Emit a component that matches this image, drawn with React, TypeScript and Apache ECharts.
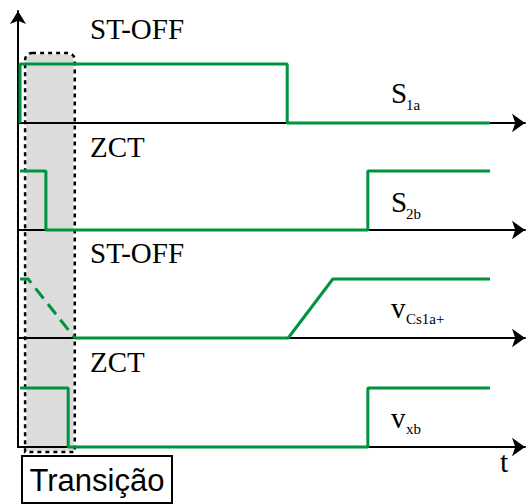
import React, { useEffect, useRef } from "react";
import * as echarts from "echarts";

// ---- data (time in arbitrary units, level 0 = low, 1 = high) ----
const signalNames = ["S1a", "S2b", "vCs1a+", "vxb"];
const modeLabels = ["ST-OFF", "ZCT", "ST-OFF", "ZCT"];

const s1aTime = [0.04, 0.04, 5.31, 5.31, 9.31];
const s1aLevel = [0, 1, 1, 0, 0];

const s2bTime = [0.04, 0.55, 0.55, 6.9, 6.9, 9.31];
const s2bLevel = [1, 1, 0, 0, 1, 1];

const vcsDashTime = [0.04, 0.2, 1.12];
const vcsDashLevel = [1, 1, 0];
const vcsTime = [1.12, 5.33, 6.21, 9.31];
const vcsLevel = [0, 0, 1, 1];

const vxbTime = [0.04, 0.99, 0.99, 6.9, 6.9, 9.31];
const vxbLevel = [1, 1, 0, 0, 1, 1];

const transitionStart = 0.14;
const transitionEnd = 1.12;
const transitionLabel = "Transição";
const timeLabel = "t";

// ---- layout ----
const W = 531;
const H = 504;
const GRID_LEFT = 18;
const GRID_W = 507;
const X_MAX = 10;
const AXIS_Y = [123, 230, 338, 447];
const HIGH_PX = 59;
const GREEN = "#00933f";
const SERIF = "'Liberation Serif', 'Times New Roman', Times, serif";
const SANS = "'Liberation Sans', Arial, Helvetica, sans-serif";

const xPx = (t: number) => GRID_LEFT + (t / X_MAX) * GRID_W;
const pairs = (ts: number[], ls: number[]) => ts.map((t, i) => [t, ls[i]]);

export default function App() {
  const ref = useRef<HTMLDivElement>(null);
  useEffect(() => {
    if (!ref.current) return;
    const chart = echarts.init(ref.current, null, { renderer: "svg" });

    const grids: any[] = AXIS_Y.map((y) => ({
      left: GRID_LEFT,
      width: GRID_W,
      top: y - HIGH_PX,
      height: HIGH_PX,
    }));
    grids.push({ left: GRID_LEFT, width: GRID_W, top: 11, height: AXIS_Y[3] - 11 });

    const xAxes: any[] = AXIS_Y.map((_, i) => ({
      type: "value",
      gridIndex: i,
      min: 0,
      max: X_MAX,
      z: 3,
      axisLine: {
        show: true,
        onZero: false,
        symbol: ["none", "arrow"],
        symbolSize: [14, 13],
        lineStyle: { color: "#000", width: 2 },
      },
      axisTick: { show: false },
      axisLabel: { show: false },
      splitLine: { show: false },
    }));
    xAxes.push({ type: "value", gridIndex: 4, min: 0, max: X_MAX, show: false });

    const yAxes: any[] = AXIS_Y.map((_, i) => ({
      type: "value",
      gridIndex: i,
      min: 0,
      max: 1,
      show: false,
    }));
    yAxes.push({
      type: "value",
      gridIndex: 4,
      min: 0,
      max: 1,
      z: 3,
      axisLine: {
        show: true,
        onZero: false,
        symbol: ["none", "arrow"],
        symbolSize: [12, 13],
        lineStyle: { color: "#000", width: 2 },
      },
      axisTick: { show: false },
      axisLabel: { show: false },
      splitLine: { show: false },
    });

    const mk = (name: string, idx: number, data: number[][], dashed = false) => ({
      name,
      type: "line",
      xAxisIndex: idx,
      yAxisIndex: idx,
      data,
      symbol: "none",
      clip: false,
      z: 4,
      lineStyle: { color: GREEN, width: 3, type: dashed ? [13, 7] : "solid" },
    });

    const series = [
      mk(signalNames[0], 0, pairs(s1aTime, s1aLevel)),
      mk(signalNames[1], 1, pairs(s2bTime, s2bLevel)),
      mk(signalNames[2] + "-dash", 2, pairs(vcsDashTime, vcsDashLevel), true),
      mk(signalNames[2], 2, pairs(vcsTime, vcsLevel)),
      mk(signalNames[3], 3, pairs(vxbTime, vxbLevel)),
    ];

    const bx0 = xPx(transitionStart);
    const bx1 = xPx(transitionEnd);
    const boxTop = 53;
    const boxBottom = 452;

    const modeY = [29, 147, 253, 362];
    const sigMain = [
      { text: "S", y: 93, sub: "1a", subY: 105 },
      { text: "S", y: 202, sub: "2b", subY: 214 },
      { text: "v", y: 308, sub: "Cs1a+", subY: 319 },
      { text: "v", y: 418, sub: "xb", subY: 429 },
    ];

    const txt = (text: string, x: number, y: number, size: number, family: string, extra: any = {}) => ({
      type: "text",
      z: 10,
      x,
      y,
      style: {
        text,
        fontSize: size,
        fontFamily: family,
        fill: "#000",
        verticalAlign: "middle",
        ...extra,
      },
    });

    const graphic: any[] = [
      {
        type: "rect",
        z: 1,
        shape: { x: bx0, y: boxTop, width: bx1 - bx0, height: boxBottom - boxTop, r: [7, 7, 0, 0] },
        style: { fill: "#dcdcdc", stroke: "#fff", lineWidth: 2.5 },
      },
      {
        type: "rect",
        z: 1,
        shape: { x: bx0, y: boxTop, width: bx1 - bx0, height: boxBottom - boxTop, r: [7, 7, 0, 0] },
        style: { fill: "none", stroke: "#000", lineWidth: 2.5, lineDash: [4, 4] },
      },
      ...modeLabels.map((m, i) => txt(m, 90, modeY[i], 29, SERIF)),
      ...sigMain.flatMap((s) => [
        txt(s.text, 391, s.y, 29, SERIF),
        txt(s.sub, 406, s.subY, 15, SERIF),
      ]),
      txt(timeLabel, 500, 461, 30, SERIF),
      {
        type: "rect",
        z: 10,
        shape: { x: 22, y: 456, width: 150, height: 47 },
        style: { fill: "#fff", stroke: "#000", lineWidth: 2 },
      },
      { ...txt(transitionLabel, 97, 480, 31, SANS, { align: "center" }), z: 11 },
    ];

    chart.setOption({
      animation: false,
      backgroundColor: "#fff",
      grid: grids,
      xAxis: xAxes,
      yAxis: yAxes,
      series,
      graphic,
    });
    return () => chart.dispose();
  }, []);

  return (
    <div
      ref={ref}
      style={{ position: "fixed", left: 0, top: 0, width: W, height: H }}
    />
  );
}
